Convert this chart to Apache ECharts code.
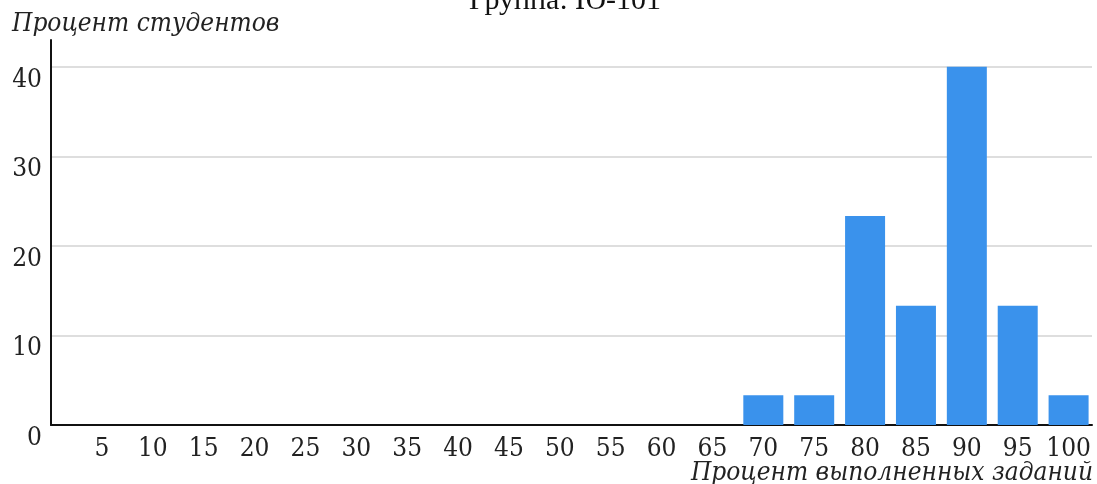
<!DOCTYPE html>
<html><head><meta charset="utf-8">
<script src="https://cdn.jsdelivr.net/npm/echarts@6/dist/echarts.min.js"></script>
<style>html,body{margin:0;padding:0;background:#fff}#c{width:1097px;height:484px}</style>
</head><body><div id="c"></div>
<script>
const titleText = 'Группа: Ю-101';
const xAxisName = 'Процент выполненных заданий';
const yAxisName = 'Процент студентов';
const categories = [5,10,15,20,25,30,35,40,45,50,55,60,65,70,75,80,85,90,95,100];
const values = [0,0,0,0,0,0,0,0,0,0,0,0,0,3.33,3.33,23.33,13.33,40,13.33,3.33];
const yTicks = [0,10,20,30,40];

const FONT = '"DejaVu Serif Condensed", "DejaVu Serif", serif';
const data = categories.map((c,i)=>[c, values[i]]);
const chart = echarts.init(document.getElementById('c'));
chart.setOption({
  animation:false,
  title:[
    {text:titleText,left:560,textAlign:'center',top:-19,textStyle:{fontFamily:'Liberation Serif',fontSize:30,fontWeight:'normal',color:'#111'}},
    {text:xAxisName,right:0,top:455,padding:[5,4,0,0],textStyle:{fontFamily:FONT,fontStyle:'italic',fontSize:26,fontWeight:'normal',color:'#222'}}
  ],
  grid:{left:51,right:5,top:40,bottom:59,containLabel:false,outerBoundsMode:'none'},
  xAxis:{type:'value',min:0,max:102.3,interval:5,
    axisLine:{show:true,lineStyle:{color:'#111',width:2}},
    axisTick:{show:false},splitLine:{show:false},
    axisLabel:{showMinLabel:false,showMaxLabel:false,margin:11,fontFamily:FONT,fontSize:26,color:'#222',
      formatter:v=>categories.indexOf(v)>=0?String(v):''}},
  yAxis:{type:'value',min:0,max:43,interval:10,
    name:yAxisName,nameLocation:'end',nameGap:3,nameTruncate:{maxWidth:2000},
    nameTextStyle:{fontFamily:FONT,fontStyle:'italic',fontSize:26,color:'#222',align:'left',verticalAlign:'bottom',overflow:'none',padding:[0,0,0,-39]},
    axisLine:{show:true,lineStyle:{color:'#111',width:2}},
    axisTick:{show:false},
    splitLine:{show:true,showMinLine:false,showMaxLine:false,lineStyle:{color:'#dedede',width:2}},
    axisLabel:{showMaxLabel:false,margin:9,verticalAlign:'top',fontFamily:FONT,fontSize:26,color:'#222',
      formatter:v=>yTicks.indexOf(v)>=0?String(v):''}},
  series:[{type:'bar',data:data,barWidth:40,itemStyle:{color:'#3a92ec'}}]
});
</script></body></html>
